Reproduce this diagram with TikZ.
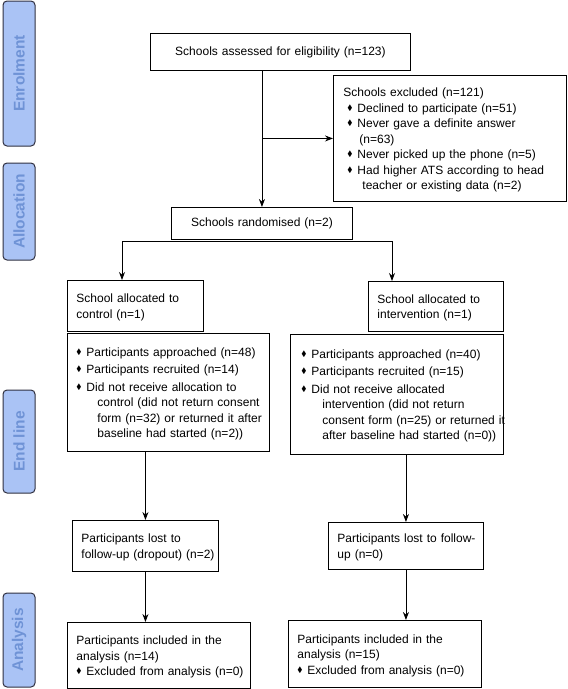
\documentclass[tikz,border=0pt]{standalone}
\usepackage{fontspec}
\usepackage{amssymb}
\setmainfont{Liberation Sans}
\usetikzlibrary{arrows.meta,positioning}
\definecolor{barfill}{HTML}{AAC3F5}
\definecolor{bartext}{HTML}{6F93D6}
\definecolor{barline}{HTML}{303040}
\newcommand{\bul}{\makebox[10pt][l]{\raisebox{0.3ex}{\scalebox{0.65}{$\blacklozenge$}}}}
\newcommand{\cont}{\hspace*{21pt}}
\newcommand{\rows}[1]{\raisebox{-1.5pt}[\height][\depth]{\begin{tabular}{@{}l@{}}#1\end{tabular}}}
\tikzset{>={Stealth[length=8pt,width=6pt]}, % filled arrow heads
box/.style={draw, line width=0.9pt, inner xsep=9pt, inner ysep=3pt, align=left, anchor=north west, font=\fontsize{12}{15.5}\selectfont}, % every flow box
phase/.style={draw=barline, line width=1pt, fill=barfill, rounded corners=4pt, rotate=90, minimum height=32pt, text=bartext, font=\fontsize{15.5}{17}\selectfont\bfseries}, % the stage bars on the left
link/.style={line width=0.9pt}, % plain connectors
}
\begin{document}
\begin{tikzpicture}[x=1pt,y=-1pt]
\useasboundingbox (0,0) rectangle (568,689);
% stages
\node[phase, minimum width=145pt] (enrol) at (19,73.5) {Enrolment};
\node[phase, minimum width=97pt] (alloc) at (19,211.5) {Allocation};
\node[phase, minimum width=103pt] (endl) at (19,441.5) {End line};
\node[phase, minimum width=94pt] (anal) at (19,640) {Analysis};
% enrolment
\node[box, align=center, text width=242pt, minimum height=37pt] (assess) at (150,33) {Schools assessed for eligibility (n=123)};
\node[box, inner xsep=10pt, text width=213pt, minimum height=126pt] (excl) at (333,75) {\rows{Schools excluded (n=121)\\
\hspace*{4pt}\bul Declined to participate (n=51)\\
\hspace*{4pt}\bul Never gave a definite answer\\
\hspace*{16pt}(n=63)\\
\hspace*{4pt}\bul Never picked up the phone (n=5)\\
\hspace*{4pt}\bul Had higher ATS according to head\\
\hspace*{19pt}teacher or existing data (n=2)}};
\node[box, align=center, text width=163pt, minimum height=32pt] (rand) at (171,207) {Schools randomised (n=2)};
% allocation
\node[box, text width=118pt, minimum height=51pt] (ctrl) at (67,280) {\rows{School allocated to\\control (n=1)}};
\node[box, text width=117pt, minimum height=50pt] (intv) at (368,281) {\rows{School allocated to\\intervention (n=1)}};
\node[box, text width=184pt, minimum height=118pt] (ctrlp) at (67,333) {\rows{\bul Participants approached (n=48)\\[2pt]
\bul Participants recruited (n=14)\\[2pt]
\bul Did not receive allocation to\\
\cont control (did not return consent\\
\cont form (n=32) or returned it after\\
\cont baseline had started (n=2))}};
\node[box, inner xsep=11pt, text width=191pt, minimum height=120pt] (intvp) at (290,334) {\rows{\bul Participants approached (n=40)\\[2pt]
\bul Participants recruited (n=15)\\[2pt]
\bul Did not receive allocated\\
\cont intervention (did not return\\
\cont consent form (n=25) or returned it\\
\cont after baseline had started (n=0))}};
% end line
\node[box, text width=128pt, minimum height=51pt] (lostc) at (72,520) {\rows{Participants lost to\\follow-up (dropout) (n=2)}};
\node[box, text width=137pt, minimum height=47pt] (losti) at (328,522) {\rows{Participants lost to follow-\\up (n=0)}};
% analysis
\node[box, text width=165pt, minimum height=66pt] (inclc) at (67,622) {\rows{Participants included in the\\analysis (n=14)\\\bul Excluded from analysis (n=0)}};
\node[box, text width=175pt, minimum height=67pt] (incli) at (288,620) {\rows{Participants included in the\\analysis (n=15)\\\bul Excluded from analysis (n=0)}};
% connectors
\draw[link, ->] (rand.north |- assess.south) -- (rand.north);
\draw[link, ->] (rand.north |- excl.west) -- (excl.west);
\coordinate (cl) at (122,241);
\coordinate (cr) at (392,241);
\draw[link] (cl) -- (cr);
\draw[link, ->] (cl) -- (cl |- ctrl.north);
\draw[link, ->] (cr) -- (cr |- intv.north);
\draw[link, ->] (lostc.north |- ctrlp.south) -- (lostc.north);
\draw[link, ->] (losti.north |- intvp.south) -- (losti.north);
\draw[link, ->] (lostc.south) -- (lostc.south |- inclc.north);
\draw[link, ->] (losti.south) -- (losti.south |- incli.north);
\end{tikzpicture}
\end{document}
